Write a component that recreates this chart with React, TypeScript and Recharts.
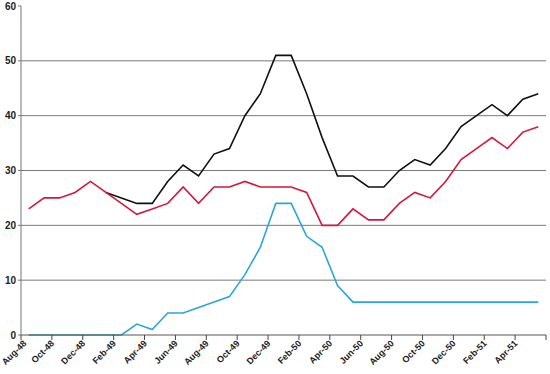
import { LineChart, Line, XAxis, YAxis, CartesianGrid } from "recharts";

const months = [
  "Aug-48", "Sep-48", "Oct-48", "Nov-48", "Dec-48", "Jan-49", "Feb-49", "Mar-49",
  "Apr-49", "May-49", "Jun-49", "Jul-49", "Aug-49", "Sep-49", "Oct-49", "Nov-49",
  "Dec-49", "Jan-50", "Feb-50", "Mar-50", "Apr-50", "May-50", "Jun-50", "Jul-50",
  "Aug-50", "Sep-50", "Oct-50", "Nov-50", "Dec-50", "Jan-51", "Feb-51", "Mar-51",
  "Apr-51", "May-51",
];

const blackSeries = [
  null, null, null, null, null, 26, 25, 24, 24, 28, 31, 29, 33, 34, 40, 44, 51,
  51, 44, 36, 29, 29, 27, 27, 30, 32, 31, 34, 38, 40, 42, 40, 43, 44,
];

const redSeries = [
  23, 25, 25, 26, 28, 26, 24, 22, 23, 24, 27, 24, 27, 27, 28, 27, 27,
  27, 26, 20, 20, 23, 21, 21, 24, 26, 25, 28, 32, 34, 36, 34, 37, 38,
];

const blueSeries = [
  0, 0, 0, 0, 0, 0, 0, 2, 1, 4, 4, 5, 6, 7, 11, 16, 24,
  24, 18, 16, 9, 6, 6, 6, 6, 6, 6, 6, 6, 6, 6, 6, 6, 6,
];

const yTicks = [0, 10, 20, 30, 40, 50, 60];
const gridValues = [10, 20, 30, 40, 50];

const data = months.map((m, i) => ({
  month: m,
  black: blackSeries[i],
  red: redSeries[i],
  blue: blueSeries[i],
}));

const W = 550;
const H = 374;
const M = { top: 6, right: 4, left: 0, bottom: 0 };
const Y_W = 21;
const BAND = (W - M.left - M.right - Y_W) / months.length;

const font = "'Liberation Sans', Arial, sans-serif";

function MonthTick(props: any) {
  const { x, y, payload } = props;
  const bx = x - BAND / 2;
  const last = payload.value === months[months.length - 2];
  // first label sits on the left edge, nudge it so it isn't clipped
  const tx = payload.value === months[0] ? bx + 6 : bx + 3;
  const ty = y + 9;
  return (
    <g>
      <line x1={bx} y1={y} x2={bx} y2={y + 5} stroke="#444" />
      {last ? (
        <line x1={bx + 2 * BAND} y1={y} x2={bx + 2 * BAND} y2={y + 5} stroke="#444" />
      ) : null}
      <text
        x={tx}
        y={ty}
        textAnchor="end"
        transform={`rotate(-45 ${tx} ${ty})`}
        fontSize={9}
        fontWeight="bold"
        fontFamily={font}
        fill="#222"
      >
        {payload.value}
      </text>
    </g>
  );
}

export default function App() {
  return (
    <div style={{ position: "absolute", left: 0, top: 0, background: "#fff" }}>
      <LineChart width={W} height={H} data={data} margin={M}>
        <CartesianGrid vertical={false} stroke="#7a7a7a" horizontalValues={gridValues} />
        <XAxis
          dataKey="month"
          scale="band"
          interval={1}
          height={39}
          tickLine={false}
          tickSize={0}
          tickMargin={0}
          axisLine={{ stroke: "#555" }}
          tick={(p: any) => <MonthTick {...p} />}
        />
        <YAxis
          width={Y_W}
          domain={[0, 60]}
          ticks={yTicks}
          interval={0}
          axisLine={{ stroke: "#777" }}
          tickLine={{ stroke: "#777" }}
          tickSize={3}
          tickMargin={2}
          tick={{ fontSize: 10, fontWeight: "bold", fontFamily: font, fill: "#222" }}
        />
        <Line type="linear" dataKey="black" stroke="#111" strokeWidth={1.6} dot={false} isAnimationActive={false} />
        <Line type="linear" dataKey="red" stroke="#d4183c" strokeWidth={1.6} dot={false} isAnimationActive={false} />
        <Line type="linear" dataKey="blue" stroke="#2aa6dc" strokeWidth={1.6} dot={false} isAnimationActive={false} />
      </LineChart>
    </div>
  );
}
